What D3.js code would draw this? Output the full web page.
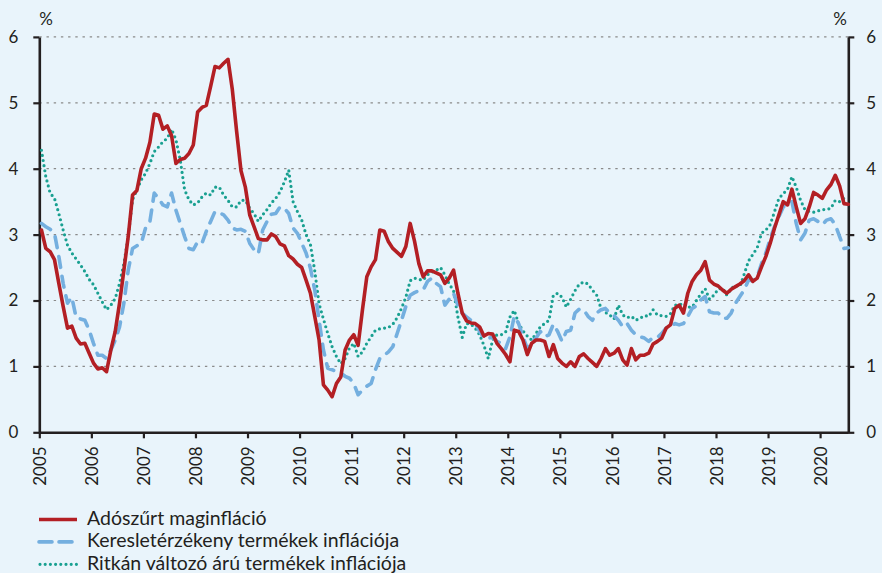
<!DOCTYPE html>
<html>
<head>
<meta charset="utf-8">
<script src="https://cdn.jsdelivr.net/npm/d3@7"></script>
<style>
  body { margin: 0; background: #e9f4fb; }
  svg { display: block; }
  text { font-family: Lato, "Liberation Sans", sans-serif; fill: #231f20; }
</style>
</head>
<body>
<div id="chart"></div>
<script>
// monthly data, Jan 2005 .. Jul 2020
const startYear = 2005;
const yearLabels = ["2005","2006","2007","2008","2009","2010","2011","2012","2013","2014","2015","2016","2017","2018","2019","2020"];
const yTicks = [0, 1, 2, 3, 4, 5, 6];
const seriesNames = ["Adószűrt maginfláció", "Keresletérzékeny termékek inflációja", "Ritkán változó árú termékek inflációja"];

const coreTaxAdj = [
  3.07,2.79,2.74,2.62,2.26,1.91,1.58,1.61,1.43,1.34,1.35,1.20,
  1.05,0.96,0.98,0.92,1.25,1.53,1.96,2.46,2.97,3.60,3.67,4.00,
  4.16,4.40,4.83,4.81,4.60,4.65,4.50,4.08,4.14,4.16,4.23,4.36,
  4.86,4.93,4.96,5.25,5.55,5.53,5.60,5.66,5.20,4.56,3.97,3.72,
  3.30,3.12,2.94,2.92,2.92,3.01,2.97,2.86,2.83,2.68,2.63,2.55,
  2.50,2.31,2.11,1.76,1.40,0.72,0.64,0.54,0.74,0.84,1.25,1.40,
  1.48,1.32,1.86,2.36,2.51,2.62,3.07,3.05,2.89,2.79,2.73,2.67,
  2.82,3.17,2.90,2.56,2.36,2.45,2.45,2.42,2.39,2.26,2.34,2.46,
  2.11,1.81,1.69,1.66,1.65,1.60,1.46,1.50,1.49,1.35,1.27,1.18,
  1.07,1.55,1.53,1.40,1.18,1.35,1.40,1.40,1.38,1.15,1.33,1.12,
  1.05,1.00,1.07,1.00,1.15,1.19,1.12,1.06,1.00,1.12,1.27,1.17,
  1.20,1.27,1.10,1.02,1.27,1.10,1.17,1.17,1.20,1.34,1.38,1.43,
  1.58,1.63,1.88,1.93,1.81,2.11,2.29,2.39,2.46,2.59,2.31,2.25,
  2.22,2.16,2.11,2.17,2.21,2.25,2.30,2.39,2.29,2.34,2.51,2.67,
  2.87,3.10,3.30,3.50,3.45,3.69,3.42,3.17,3.24,3.42,3.64,3.60,
  3.55,3.68,3.76,3.90,3.74,3.47,3.46
];

const demandSensitive = [
  3.17,3.12,3.08,3.02,2.67,2.26,1.96,2.05,1.74,1.72,1.70,1.55,
  1.35,1.17,1.17,1.12,1.25,1.40,1.60,1.96,2.46,2.79,2.83,2.87,
  3.10,3.20,3.63,3.55,3.45,3.42,3.63,3.37,3.17,2.97,2.79,2.77,
  2.89,2.87,3.05,3.20,3.35,3.33,3.30,3.22,3.10,3.07,3.08,3.05,
  2.87,2.77,2.71,3.07,3.20,3.31,3.32,3.42,3.40,3.32,3.10,3.02,
  2.87,2.72,2.49,2.16,1.70,1.25,0.97,0.95,0.92,0.90,0.85,0.82,
  0.74,0.57,0.64,0.70,0.74,0.95,1.12,1.17,1.22,1.30,1.50,1.70,
  1.91,2.08,2.12,2.15,2.16,2.29,2.34,2.26,2.21,1.93,2.02,2.11,
  1.93,1.81,1.75,1.70,1.65,1.53,1.43,1.43,1.44,1.38,1.35,1.27,
  1.45,1.76,1.65,1.45,1.27,1.38,1.43,1.53,1.45,1.48,1.64,1.53,
  1.38,1.53,1.55,1.81,1.87,1.86,1.76,1.70,1.81,1.86,1.88,1.81,
  1.77,1.70,1.60,1.65,1.55,1.48,1.45,1.43,1.38,1.44,1.44,1.50,
  1.58,1.60,1.65,1.63,1.65,1.76,1.88,1.92,2.01,2.06,1.83,1.81,
  1.81,1.73,1.73,1.81,1.96,2.06,2.16,2.31,2.30,2.36,2.56,2.72,
  2.94,3.12,3.27,3.42,3.45,3.50,3.17,2.92,3.02,3.22,3.24,3.20,
  3.15,3.22,3.24,3.15,2.97,2.79,2.80
];

const stickyPrice = [
  4.28,3.88,3.63,3.55,3.32,3.07,2.84,2.72,2.63,2.54,2.44,2.32,
  2.24,2.11,1.98,1.86,1.93,2.03,2.26,2.56,2.97,3.53,3.68,3.83,
  3.93,4.08,4.26,4.33,4.41,4.46,4.60,4.44,4.13,3.68,3.53,3.45,
  3.48,3.57,3.63,3.60,3.72,3.72,3.60,3.52,3.42,3.42,3.52,3.52,
  3.40,3.32,3.20,3.30,3.38,3.48,3.55,3.65,3.80,3.98,3.50,3.35,
  3.22,3.00,2.85,2.45,1.95,1.72,1.50,1.30,1.15,1.04,1.12,1.28,
  1.35,1.15,1.22,1.35,1.45,1.55,1.57,1.58,1.59,1.64,1.74,1.88,
  2.05,2.30,2.34,2.32,2.31,2.39,2.43,2.46,2.50,2.39,2.25,2.15,
  1.75,1.44,1.65,1.64,1.58,1.48,1.32,1.12,1.40,1.48,1.48,1.52,
  1.75,1.85,1.65,1.54,1.46,1.40,1.50,1.60,1.65,1.70,2.08,2.11,
  2.05,1.90,2.02,2.15,2.25,2.28,2.25,2.16,2.08,1.88,1.82,1.78,
  1.72,1.93,1.78,1.74,1.76,1.70,1.73,1.77,1.76,1.86,1.78,1.77,
  1.76,1.80,1.93,1.93,1.96,1.90,1.90,2.00,2.10,2.18,2.02,2.08,
  2.17,2.19,2.08,2.18,2.23,2.21,2.40,2.60,2.70,2.80,3.02,3.07,
  3.15,3.35,3.55,3.62,3.69,3.88,3.72,3.52,3.38,3.35,3.34,3.36,
  3.38,3.38,3.40,3.52,3.50,3.55,3.58
];

const W = 882, H = 573;
const margin = {top: 36.9, right: 882 - 848.3, bottom: 573 - 432.3, left: 39.3};

const svg = d3.select("#chart")
  .append("svg")
  .attr("width", W)
  .attr("height", H);

svg.append("rect").attr("width", W).attr("height", H).attr("fill", "#e9f4fb");

// x in months since Jan 2005, points at mid-month
const x = d3.scaleLinear()
  .domain([0, 186.5])
  .range([margin.left, W - margin.right]);

const y = d3.scaleLinear()
  .domain([0, 6])
  .range([H - margin.bottom, margin.top]);

// gridlines
svg.append("g")
  .selectAll("line")
  .data(yTicks.filter(d => d > 0))
  .join("line")
  .attr("x1", x(0))
  .attr("x2", x(186.5))
  .attr("y1", d => y(d))
  .attr("y2", d => y(d))
  .attr("stroke", "#8a8a8a")
  .attr("stroke-width", 1.2)
  .attr("stroke-dasharray", "2.4,4.8");

// axes
const axisStyle = g => {
  g.select(".domain").attr("stroke", "#231f20").attr("stroke-width", 2.6);
  g.selectAll(".tick line").attr("stroke", "#231f20").attr("stroke-width", 2.2);
  g.selectAll(".tick text").style("font-size", "17px").attr("fill", "#231f20");
};

svg.append("g")
  .attr("transform", `translate(${x(0)},0)`)
  .call(d3.axisLeft(y).tickValues(yTicks).tickSize(6).tickSizeOuter(0).tickPadding(15).tickFormat(d3.format("d")))
  .call(axisStyle);

svg.append("g")
  .attr("transform", `translate(${x(186.5)},0)`)
  .call(d3.axisRight(y).tickValues(yTicks).tickSize(6).tickSizeOuter(0).tickPadding(12).tickFormat(d3.format("d")))
  .call(axisStyle);

const xAxis = svg.append("g")
  .attr("transform", `translate(0,${y(0)})`)
  .call(d3.axisBottom(x)
    .tickValues(yearLabels.map((d, i) => i * 12))
    .tickSize(6)
    .tickSizeOuter(0)
    .tickFormat((d, i) => yearLabels[i]))
  .call(axisStyle);

xAxis.selectAll(".tick text")
  .attr("transform", "rotate(-90)")
  .attr("text-anchor", "end")
  .attr("x", -14)
  .attr("y", 0)
  .attr("dy", "0.36em");

// % labels
svg.append("text").attr("x", 46).attr("y", 25).attr("text-anchor", "middle").style("font-size", "17px").text("%");
svg.append("text").attr("x", 840).attr("y", 25).attr("text-anchor", "middle").style("font-size", "17px").text("%");

// series
const series = [
  {name: seriesNames[0], values: coreTaxAdj, color: "#b31f24", dash: null, width: 3.6},
  {name: seriesNames[1], values: demandSensitive, color: "#74afdf", dash: "11,9", width: 3.6},
  {name: seriesNames[2], values: stickyPrice, color: "#19a091", dash: "0,5.2", width: 3.2}
];

const line = d3.line()
  .x((d, i) => x(i + 0.5))
  .y(d => y(d));

// draw order: sticky dots, demand dashed, core on top
[series[2], series[1], series[0]].forEach(s => {
  svg.append("path")
    .datum(s.values)
    .attr("fill", "none")
    .attr("stroke", s.color)
    .attr("stroke-width", s.width)
    .attr("stroke-linejoin", "round")
    .attr("stroke-linecap", "round")
    .attr("stroke-dasharray", s.dash)
    .attr("d", line);
});

// legend
const legend = svg.append("g");
series.forEach((s, i) => {
  const ly = 519.5 + i * 22.4;
  legend.append("line")
    .attr("x1", s.dash === "0,5.2" ? 40 : 39)
    .attr("x2", 77)
    .attr("y1", ly)
    .attr("y2", ly)
    .attr("stroke", s.color)
    .attr("stroke-width", s.width)
    .attr("stroke-linecap", s.dash ? "round" : "butt")
    .attr("stroke-dasharray", s.dash === "11,9" ? "13,7" : s.dash);
  legend.append("text")
    .attr("x", 87)
    .attr("y", ly + 5.2)
    .style("font-size", "19.5px")
    .text(s.name);
});
</script>
</body>
</html>
